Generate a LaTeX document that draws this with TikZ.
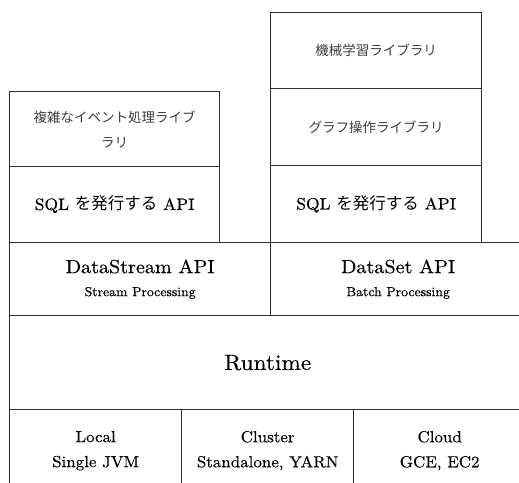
\documentclass[tikz,border=0pt]{standalone}
\usepackage{fontspec}
\setmainfont{lmroman10-regular.otf}[FakeBold=0.4, FakeStretch=1.06]
\newfontfamily\jp{Noto Sans CJK JP}
\definecolor{edge}{HTML}{2E2E2E}
\definecolor{jpgray}{HTML}{3C3C3C}
\tikzset{
  layer/.style={draw=edge, line width=1.3pt, rectangle, anchor=north west,
    inner sep=0pt, align=center, text=black},
  libtext/.style={font=\jp\fontsize{13.5}{25}\selectfont, text=jpgray},
  sqltext/.style={font=\fontsize{16.5}{20}\selectfont},
  apitext/.style={font=\fontsize{19}{25}\selectfont},
  deploytext/.style={font=\fontsize{16}{25}\selectfont},
}
\newcommand\subline[1]{\\[-2pt]{\fontsize{13}{16}\selectfont #1}}
\begin{document}
\begin{tikzpicture}[x=1pt,y=-1pt]
\useasboundingbox (0,0) rectangle (519,482);
\clip (0,0) rectangle (519,482);

% streaming stack (left)
\node[layer, libtext, minimum width=210pt, minimum height=75pt] (cep) at (9,91)
  {複雑なイベント処理ライブ\\ラリ};
\node[layer, sqltext, minimum width=210pt, minimum height=76pt] (sqlL) at (9,166)
  {SQL {\jp を発行する} API};

% batch stack (right)
\node[layer, libtext, minimum width=211pt, minimum height=76pt] (ml) at (270,12)
  {機械学習ライブラリ};
\node[layer, libtext, minimum width=211pt, minimum height=77pt] (graph) at (270,88)
  {グラフ操作ライブラリ};
\node[layer, sqltext, minimum width=211pt, minimum height=77pt] (sqlR) at (270,165)
  {SQL {\jp を発行する} API};

% core APIs
\node[layer, apitext, minimum width=261pt, minimum height=73pt] (dstream) at (9,242)
  {DataStream API\subline{Stream Processing}};
\node[layer, apitext, minimum width=255pt, minimum height=73pt] (dset) at (270,242)
  {DataSet API\subline{Batch Processing}};

% runtime
\node[layer, font=\fontsize{22}{28}\selectfont, minimum width=516pt, minimum height=94pt] (runtime) at (9,315)
  {Runtime};

% deployment
\node[layer, deploytext, minimum width=172pt, minimum height=82pt] (local) at (9,409)
  {Local\\Single JVM};
\node[layer, deploytext, minimum width=172pt, minimum height=82pt] (cluster) at (181,409)
  {Cluster\\Standalone, YARN};
\node[layer, deploytext, minimum width=172pt, minimum height=82pt] (cloud) at (353,409)
  {Cloud\\GCE, EC2};
\end{tikzpicture}
\end{document}
